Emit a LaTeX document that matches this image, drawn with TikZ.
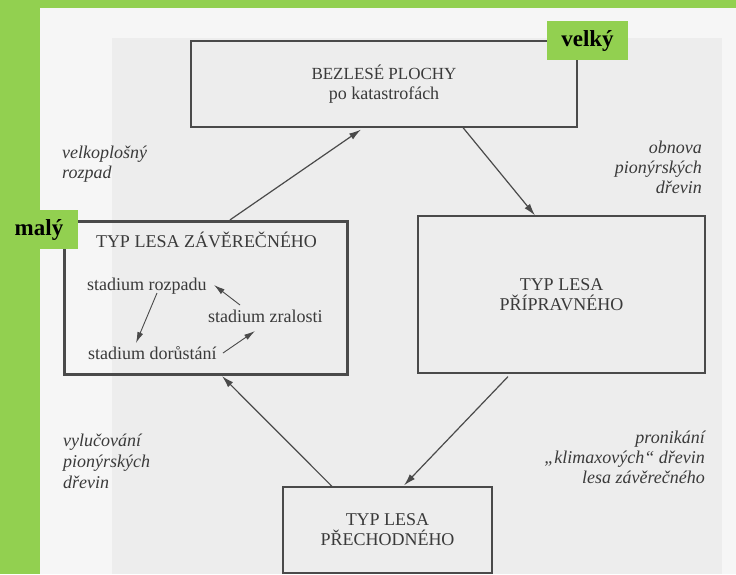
\documentclass[tikz,border=0pt]{standalone}
\usepackage{fontspec}
\setmainfont{Liberation Serif}
\usetikzlibrary{arrows.meta,calc}
\definecolor{grn}{HTML}{92D050}
\definecolor{ink}{HTML}{3A3A3A}
\definecolor{linec}{HTML}{4A4A4A}
\definecolor{pagea}{HTML}{F6F6F6}
\definecolor{pageb}{HTML}{EDEDED}
\tikzset{
  box/.style={draw=linec, line width=1.2pt, rectangle, inner sep=0pt, align=center, text=ink, font=\fontsize{18}{20}\selectfont},
  thickbox/.style={draw=linec, line width=3.2pt, rectangle, inner sep=0pt},
  tag/.style={fill=grn, inner sep=0pt, font=\bfseries\fontsize{23}{23}\selectfont, text=black},
  lab/.style={inner sep=0pt, text=ink, font=\itshape\fontsize{18}{20}\selectfont},
  stxt/.style={inner sep=0pt, text=ink, font=\fontsize{18}{20}\selectfont, anchor=base west},
  arr/.style={draw=linec, line width=1.2pt, -{Latex[length=12pt,width=7pt]}},
  iarr/.style={draw=linec, line width=0.9pt, -{Latex[length=11pt,width=6pt]}},
}
\begin{document}
\begin{tikzpicture}[x=1pt,y=-1pt]
\useasboundingbox (0,0) rectangle (736,574);
\fill[pagea] (0,0) rectangle (736,574);
\fill[pageb] (112,38) rectangle (722,574);
\fill[grn] (0,0) rectangle (40,574);
\fill[grn] (0,0) rectangle (736,8);

% boxes
\node[box, minimum width=386pt, minimum height=86pt] (bez) at (384,84)
  {{\fontsize{17}{19}\selectfont BEZLESÉ PLOCHY}\\po katastrofách};
\node[box, minimum width=287pt, minimum height=157pt] (pri) at (561.5,294.5)
  {TYP LESA\\PŘÍPRAVNÉHO};
\node[thickbox, minimum width=283pt, minimum height=153pt] (zav) at (206,298) {};
\node[box, minimum width=209pt, minimum height=86pt] (pre) at (387.5,530)
  {TYP LESA\\PŘECHODNÉHO};

% contents of the closing-forest box
\node[stxt, anchor=base] (zt) at (206.5,247) {TYP LESA ZÁVĚREČNÉHO};
\node[stxt] (roz) at (87,290) {stadium rozpadu};
\node[stxt] (zra) at (208,322) {stadium zralosti};
\node[stxt] (dor) at (88,359) {stadium dorůstání};

\draw[iarr] ($(roz.base west)+(70,3)$) -- ($(dor.base west)+(48,-16)$);
\draw[iarr] ($(zra.base west)+(32,-17)$) -- ($(roz.base west)+(127,-5)$);
\draw[iarr] ($(dor.base west)+(135,-6)$) -- ($(zra.base west)+(47,9)$);

% outer cycle
\draw[arr] ([xshift=24pt]zav.north) -- ([xshift=-23pt,yshift=-2pt]bez.south);
\draw[arr] ([xshift=79pt]bez.south) -- ([xshift=-26.5pt]pri.north);
\draw[arr] ([xshift=-53.5pt,yshift=-3pt]pri.south) -- ([xshift=16.5pt,yshift=1pt]pre.north);
\draw[arr] ([xshift=-55.5pt]pre.north) -- ([xshift=16pt]zav.south);

% labels (base anchor = baseline of the last line)
\node[lab, anchor=base west, align=left] (l1) at (62,178) {velkoplošný\\rozpad};
\node[lab, anchor=base east, align=right] (l2) at (702,193) {obnova\\pionýrských\\dřevin};
\node[lab, anchor=base west, align=left, font=\itshape\fontsize{18}{21}\selectfont] (l3) at (63,488) {vylučování\\pionýrských\\dřevin};
\node[lab, anchor=base east, align=right] (l4) at (705,483) {pronikání\\„klimaxových“ dřevin\\lesa závěrečného};

% tags
\node[tag, minimum width=81pt, minimum height=39pt] (velky) at (587.5,40.5) {velký};
\node[tag, minimum width=78pt, minimum height=39pt] (maly) at (39,229.5) {malý};
\end{tikzpicture}
\end{document}
